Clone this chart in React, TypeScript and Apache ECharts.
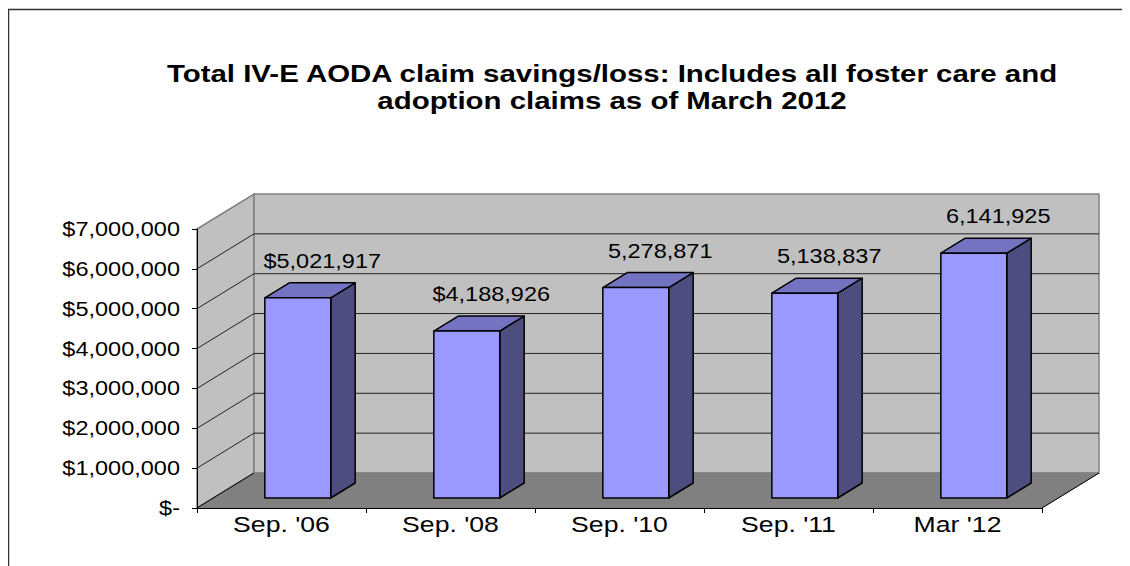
import React, { useEffect, useRef } from "react";
import * as echarts from "echarts";

const categories = ["Sep. '06", "Sep. '08", "Sep. '10", "Sep. '11", "Mar '12"];
const savings = [5021917, 4188926, 5278871, 5138837, 6141925];
const valueLabels = ["$5,021,917", "$4,188,926", "5,278,871", "5,138,837", "6,141,925"];
const yTicks = [0, 1000000, 2000000, 3000000, 4000000, 5000000, 6000000, 7000000];
const yMax = 7000000;
const yInterval = 1000000;
const titleLines = [
  "Total IV-E AODA claim savings/loss: Includes all foster care and",
  "adoption claims as of March 2012",
];

const FONT = "'Liberation Sans', Arial, sans-serif";
const DX = 57;
const DY = -35;
const F1 = 10 / 35;
const F2 = 25 / 35;

function fmtMoney(v: number): string {
  if (v === 0) return "$-";
  return "$" + v.toLocaleString("en-US");
}

export default function App() {
  const ref = useRef<HTMLDivElement>(null);
  useEffect(() => {
    if (!ref.current) return;
    const chart = echarts.init(ref.current, undefined, { renderer: "svg" });
    const option: any = {
      animation: false,
      graphic: [
        {
          type: "rect",
          shape: { x: 0.5, y: 1.5, width: 1400, height: 800 },
          style: { fill: "none", stroke: "#333", lineWidth: 1.5 },
          silent: true,
        },
        ...titleLines.map((t, i) => ({
          type: "text",
          x: 604,
          y: 66 + i * 27,
          scaleX: 1.28,
          style: {
            text: t,
            font: `bold 23px ${FONT}`,
            fill: "#000",
            textAlign: "center",
            textVerticalAlign: "middle",
          },
        })),
      ],
      grid: { left: 189, right: 88, top: 221, bottom: 58, containLabel: false },
      xAxis: {
        type: "category",
        data: categories,
        boundaryGap: true,
        axisLine: { show: true, lineStyle: { color: "#000", width: 1 } },
        axisTick: { show: true, alignWithLabel: false, length: 5, lineStyle: { color: "#000" } },
        axisLabel: { show: false },
        splitLine: { show: false },
        z: 10,
      },
      yAxis: {
        type: "value",
        min: 0,
        max: yMax,
        interval: yInterval,
        axisLine: { show: true, lineStyle: { color: "#000", width: 1 } },
        axisTick: { show: true, length: 5, lineStyle: { color: "#000" } },
        axisLabel: { show: false },
        splitLine: { show: false },
        z: 10,
      },
      series: [
        {
          type: "custom",
          z: 1,
          silent: true,
          data: [[0, 0]],
          renderItem: (params: any, api: any) => {
            const cs = params.coordSys;
            const x0 = cs.x;
            const x1 = cs.x + cs.width;
            const yb = api.coord([0, 0])[1];
            const yt = api.coord([0, yMax])[1];
            const children: any[] = [];
            children.push({
              type: "polygon",
              shape: { points: [[x0, yb], [x0 + DX, yb + DY], [x0 + DX, yt + DY], [x0, yt]] },
              style: { fill: "#c0c0c0", stroke: "#808080", lineWidth: 1.5 },
            });
            children.push({
              type: "polygon",
              shape: { points: [[x0 + DX, yb + DY], [x1 + DX, yb + DY], [x1 + DX, yt + DY], [x0 + DX, yt + DY]] },
              style: { fill: "#c0c0c0", stroke: "#808080", lineWidth: 1.5 },
            });
            for (let v = yInterval; v < yMax; v += yInterval) {
              const y = api.coord([0, v])[1];
              children.push({
                type: "line",
                shape: { x1: x0 + DX, y1: y + DY, x2: x1 + DX, y2: y + DY },
                style: { stroke: "#222", lineWidth: 1 },
              });
              children.push({
                type: "line",
                shape: { x1: x0, y1: y, x2: x0 + DX, y2: y + DY },
                style: { stroke: "#222", lineWidth: 1 },
              });
            }
            children.push({
              type: "polygon",
              shape: { points: [[x0, yb], [x1, yb], [x1 + DX, yb + DY], [x0 + DX, yb + DY]] },
              style: { fill: "#808080", stroke: "#808080", lineWidth: 1 },
            });
            children.push({
              type: "line",
              shape: { x1: x0, y1: yb, x2: x0 + DX, y2: yb + DY },
              style: { stroke: "#000", lineWidth: 1 },
            });
            children.push({
              type: "line",
              shape: { x1: x1, y1: yb, x2: x1 + DX, y2: yb + DY },
              style: { stroke: "#000", lineWidth: 1 },
            });
            return { type: "group", children };
          },
        },
        {
          type: "custom",
          z: 3,
          silent: true,
          data: yTicks.map((v) => [0, v]),
          renderItem: (params: any, api: any) => {
            const v = api.value(1);
            const y = api.coord([0, v])[1];
            const x = params.coordSys.x - 17;
            return {
              type: "text",
              x,
              y,
              scaleX: 1.12,
              style: {
                text: fmtMoney(v),
                font: `21px ${FONT}`,
                fill: "#000",
                textAlign: "right",
                textVerticalAlign: "middle",
              },
            };
          },
        },
        {
          type: "custom",
          z: 2,
          data: savings.map((v, i) => [i, v]),
          renderItem: (params: any, api: any) => {
            const i = api.value(0);
            const v = api.value(1);
            const top = api.coord([i, v]);
            const base = api.coord([i, 0]);
            const cw = api.size([1, 0])[0];
            const bw = cw * 0.39;
            const ox = DX * F1;
            const oy = DY * F1;
            const bdx = DX * (F2 - F1);
            const bdy = DY * (F2 - F1);
            const xl = top[0] + ox - bw / 2;
            const xr = top[0] + ox + bw / 2;
            const yT = top[1] + oy;
            const yB = base[1] + oy;
            const stroke = { stroke: "#000", lineWidth: 1.5, lineJoin: "round" };
            return {
              type: "group",
              children: [
                {
                  type: "polygon",
                  shape: { points: [[xr, yT], [xr + bdx, yT + bdy], [xr + bdx, yB + bdy], [xr, yB]] },
                  style: { fill: "#4d4d80", ...stroke },
                },
                {
                  type: "polygon",
                  shape: { points: [[xl, yT], [xl + bdx, yT + bdy], [xr + bdx, yT + bdy], [xr, yT]] },
                  style: { fill: "#7373c2", ...stroke },
                },
                {
                  type: "rect",
                  shape: { x: xl, y: yT, width: bw, height: yB - yT },
                  style: { fill: "#9999ff", ...stroke },
                },
                {
                  type: "text",
                  x: (xl + xr) / 2 + bdx,
                  y: yT + bdy - 22,
                  scaleX: 1.12,
                  style: {
                    text: valueLabels[i],
                    font: `21px ${FONT}`,
                    fill: "#000",
                    textAlign: "center",
                    textVerticalAlign: "middle",
                  },
                },
                {
                  type: "text",
                  x: base[0],
                  y: base[1] + 16,
                  scaleX: 1.21,
                  style: {
                    text: categories[i],
                    font: `22px ${FONT}`,
                    fill: "#000",
                    textAlign: "center",
                    textVerticalAlign: "middle",
                  },
                },
              ],
            };
          },
        },
      ],
    };
    chart.setOption(option);
    return () => chart.dispose();
  }, []);
  return <div ref={ref} style={{ width: 1122, height: 558 }} />;
}
